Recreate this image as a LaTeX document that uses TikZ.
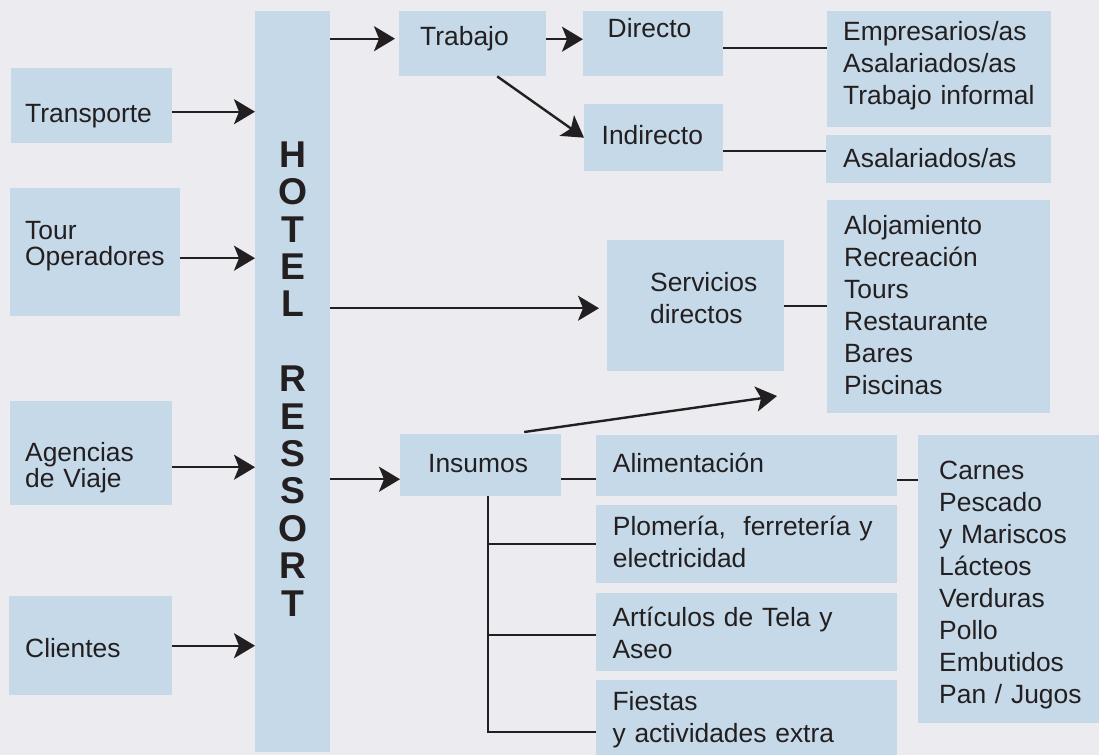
\documentclass[tikz,border=0pt]{standalone}
\usepackage{fontspec}
\setmainfont{Liberation Sans}
\usetikzlibrary{arrows.meta}
\definecolor{fondo}{HTML}{EBEBF0}
\definecolor{celeste}{HTML}{C5D9E8}
\definecolor{tinta}{HTML}{231F20}
\begin{document}
\begin{tikzpicture}[x=1pt, y=-1pt,
	>={Stealth[length=21pt, width=25pt, inset=5pt]},
	caja/.style n args={3}{fill=celeste, text=tinta, inner sep=0pt, anchor=north west,
		text width=#1pt, text height=#2pt, text depth=#3pt},
	texto/.style={align=left, font=\fontsize{26.4}{32}\selectfont,
		execute at begin node={\leftskip=#1pt\relax}},
	junto/.style={font=\fontsize{26.4}{26.7}\selectfont},
	flecha/.style={->, line width=2.4pt, draw=tinta},
	linea/.style={line width=2.4pt, draw=tinta}]
	\fill[fondo] (0,0) rectangle (1099,755);
	\useasboundingbox (0,0) rectangle (1099,755);

	\node[caja={161}{54}{21}, texto=14] (trans) at (11,68) {Transporte};
	\node[caja={170}{51}{77}, texto=15, junto] (tour) at (10,188) {Tour\\Operadores};
	\node[caja={162}{60}{44}, texto=15, junto] (agen) at (10,401) {Agencias\\de Viaje};
	\node[caja={163}{61}{38}, texto=16] (cli) at (9,596) {Clientes};
	\node[caja={75}{156}{585}, align=center, font=\fontsize{37.3}{37.4}\selectfont\bfseries] (hotel) at (255,11)
		{H\\O\\T\\E\\L\\[37.4pt]R\\E\\S\\S\\O\\R\\T};

	\node[caja={147}{34}{31}, texto=21] (trab) at (399,11) {Trabajo};
	\node[caja={140}{26}{39}, texto=24.5] (dir) at (583,11) {Directo};
	\node[caja={139}{40}{27}, texto=17.5] (ind) at (584,104) {Indirecto};
	\node[caja={224}{29}{87}, texto=16] (emp) at (827,11) {Empresarios/as\\Asalariados/as\\Trabajo~informal};
	\node[caja={225}{32}{16}, texto=17] (asal) at (826,135) {Asalariados/as};
	\node[caja={177}{51}{80}, texto=43] (serv) at (607,240) {Servicios\\directos};
	\node[caja={223}{34}{179}, texto=17] (aloj) at (827,200) {Alojamiento\\Recreación\\Tours\\Restaurante\\Bares\\Piscinas};

	\node[caja={161}{38}{24}, texto=28] (ins) at (400,434) {Insumos};
	\node[caja={301}{37}{24}, texto=16.7] (alim) at (596,435) {Alimentación};
	\node[caja={301}{30}{48}, texto=16.7] (plom) at (596,505) {Plomería,~~ferretería y\\electricidad};
	\node[caja={301}{33}{45}, texto=16.3] (art) at (596,593) {Artículos de Tela y\\Aseo};
	\node[caja={301}{30}{45}, texto=16.3] (fies) at (596,680) {Fiestas\\y actividades extra};
	\node[caja={181}{44}{244}, texto=21] (carn) at (918,435) {Carnes\\Pescado\\y Mariscos\\Lácteos\\Verduras\\Pollo\\Embutidos\\Pan / Jugos};
	\coordinate (punta) at (777,396);

	\draw[flecha] ([yshift=-6pt]trans.east) -- ([yshift=-6pt]trans.east -| hotel.west);
	\draw[flecha] ([yshift=-6pt]tour.east) -- ([yshift=-6pt]tour.east -| hotel.west);
	\draw[flecha] ([yshift=-14pt]agen.east) -- ([yshift=-14pt]agen.east -| hotel.west);
	\draw[flecha] (cli.east) -- (cli.east -| hotel.west);

	\draw[flecha, shorten >=4pt] ([yshift=5pt]trab.west -| hotel.east) -- ([yshift=5pt]trab.west);
	\draw[flecha] ([yshift=4.5pt]trab.east) -- ([yshift=4.5pt]trab.east -| dir.west);
	\draw[flecha] ([xshift=24.5pt]trab.south) -- (ind.west);
	\draw[linea] ([yshift=-4pt]dir.east) -- ([yshift=-4pt]dir.east -| emp.west);
	\draw[linea] ([yshift=-13.5pt]ind.east) -- ([yshift=-13.5pt]ind.east -| asal.west);

	\draw[flecha, shorten >=8pt] ([yshift=-2.5pt]serv.west -| hotel.east) -- ([yshift=-2.5pt]serv.west);
	\draw[linea] (serv.east) -- (serv.east -| aloj.west);

	\draw[flecha] ([yshift=-14pt]ins.west -| hotel.east) -- ([yshift=-14pt]ins.west);
	\draw[flecha] ([xshift=43.5pt, yshift=2pt]ins.north) -- (punta);
	\draw[linea] ([yshift=-14pt]ins.east) -- ([yshift=-14pt]ins.east -| alim.west);
	\draw[linea] ([xshift=7.5pt]ins.south) |- (plom.west);
	\draw[linea] ([xshift=7.5pt]ins.south) |- ([yshift=-3pt]art.west);
	\draw[linea] ([xshift=7.5pt]ins.south) |- ([yshift=-14.5pt]fies.west);
	\draw[linea] ([yshift=-14pt]alim.east) -- ([yshift=-14pt]alim.east -| carn.west);
\end{tikzpicture}
\end{document}
